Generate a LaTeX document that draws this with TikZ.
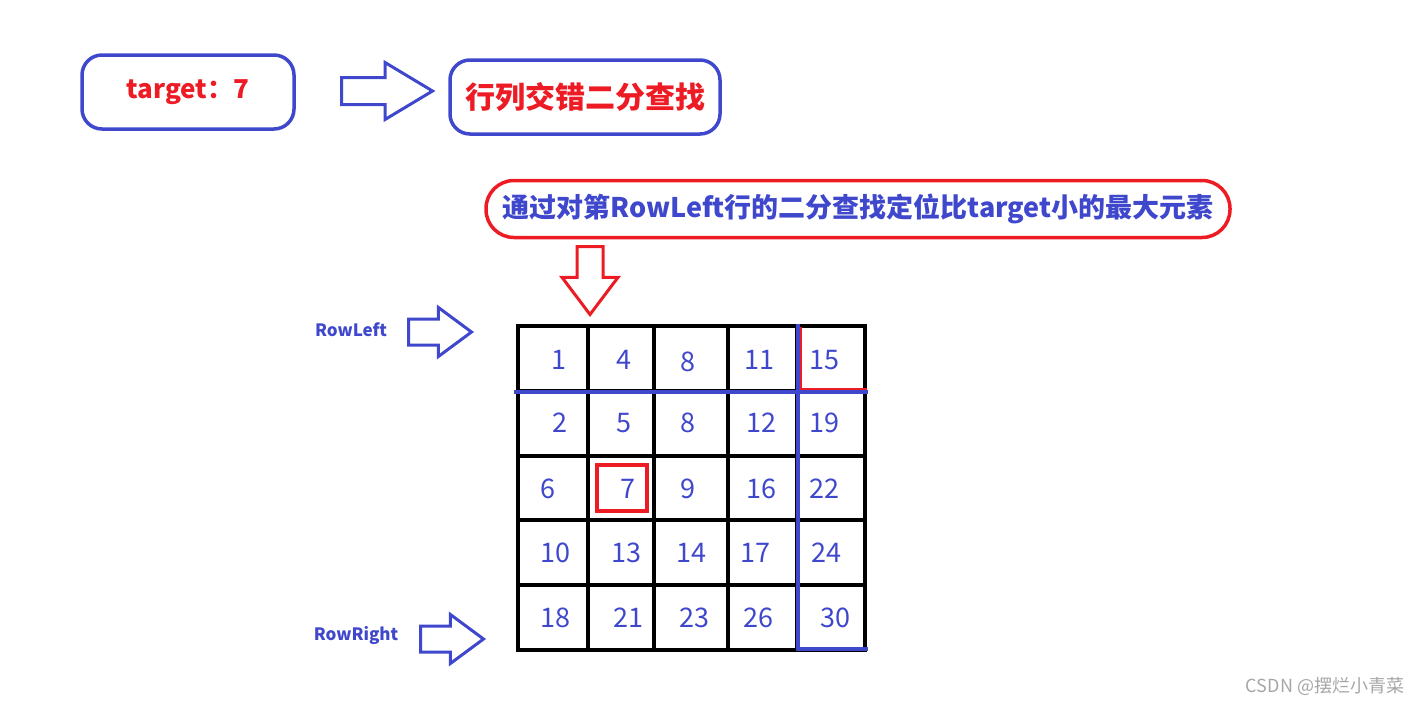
\documentclass[tikz,border=0pt]{standalone}
\usepackage{fontspec}
\setmainfont{Noto Sans CJK SC}
\usepackage{xcolor}
\usepackage{tikz}
\usetikzlibrary{shapes.arrows}
\definecolor{paintblue}{RGB}{63,72,204}
\definecolor{paintred}{RGB}{237,28,36}

\begin{document}
\begin{tikzpicture}[x=1pt, y=-1pt,
  card/.style={draw=paintblue, line width=3.5pt, rounded corners=20pt,
               minimum width=#1, minimum height=74pt,
               text=paintred, font=\fontsize{26pt}{30pt}\selectfont\bfseries},
  fat/.style={single arrow, draw=#1, line width=3pt, fill=white, inner sep=0pt,
              minimum width=0pt, anchor=tail},
  num/.style={text=paintblue, inner sep=0pt, font=\fontsize{27pt}{30pt}\selectfont},
  rowlabel/.style={text=paintblue, font=\fontsize{17pt}{20pt}\selectfont\bfseries},
  gridline/.style={line width=4.5pt},
  markline/.style={draw=paintblue, line width=4pt}]
\useasboundingbox (0,0) rectangle (1427,705);

% header
\node[card=212pt] (target) at (188,92) {target：7};
\node[fat=paintblue, inner ysep=12pt, single arrow head extend=15pt,
      single arrow tip angle=62, minimum height=91pt] (go) at (340,91) {};
\node[card=270pt, font=\fontsize{30pt}{34pt}\selectfont\bfseries] (method) at (585,97) {行列交错二分查找};

% step description
\node[draw=paintred, line width=3.5pt, rounded corners=28pt, minimum width=744pt,
      minimum height=57pt, text=paintblue, font=\fontsize{27pt}{30pt}\selectfont\bfseries]
  (step) at (858,209) {通过对第RowLeft行的二分查找定位比target小的最大元素};
\node[fat=paintred, inner ysep=11.5pt, single arrow head extend=15pt,
      single arrow tip angle=74, minimum height=68pt, rotate=-90] (down) at (590,245) {};

% row pointers
\node[rowlabel] (rowleft) at (351,330) {RowLeft};
\node[fat=paintblue, inner ysep=11.5pt, single arrow head extend=11.5pt,
      single arrow tip angle=73, minimum height=63pt] (pleft) at (407,332) {};
\node[rowlabel] (rowright) at (356,635) {RowRight};
\node[fat=paintblue, inner ysep=11.5pt, single arrow head extend=11.5pt,
      single arrow tip angle=73, minimum height=63pt] (pright) at (419,639) {};

% matrix
\draw[gridline] (518,326) rectangle (865,650);
\foreach \x in {588,654,728,797}
  \draw[gridline] (\x,326) -- (\x,650);
\foreach \y in {391,456,520,585}
  \draw[gridline] (518,\y) -- (865,\y);

\foreach \v/\x/\y/\n in {1/559/360/a1, 4/624/360/a2, 8/688/362/a3, 11/759/360/a4, 15/824/360/a5,
    2/560/423/b1, 5/624/423/b2, 8/688/423/b3, 12/761/423/b4, 19/824/423/b5,
    6/548/489/c1, 7/628/489/c2, 9/688/489/c3, 16/761/489/c4, 22/824/489/c5,
    10/555/553/d1, 13/626/553/d2, 14/691/553/d3, 17/755/553/d4, 24/826/553/d5,
    18/555/618/e1, 21/628/618/e2, 23/694/618/e3, 26/758/618/e4, 30/835/618/e5}
  \node[num] (\n) at (\x,\y) {\v};

\node[draw=paintred, line width=3.5pt, minimum width=50pt, minimum height=46pt] (hit) at (622,488) {};

% search bounds
\draw[markline] (514,392) -- (868,392);
\draw[markline] (798,324) -- (798,649) -- (868,649);
\draw[paintred, line width=2pt] (801,327) -- (801,389) -- (867,389);

\node[text=gray!70, font=\fontsize{18pt}{21pt}\selectfont] (mark) at (1325,686) {CSDN @摆烂小青菜};
\end{tikzpicture}
\end{document}
